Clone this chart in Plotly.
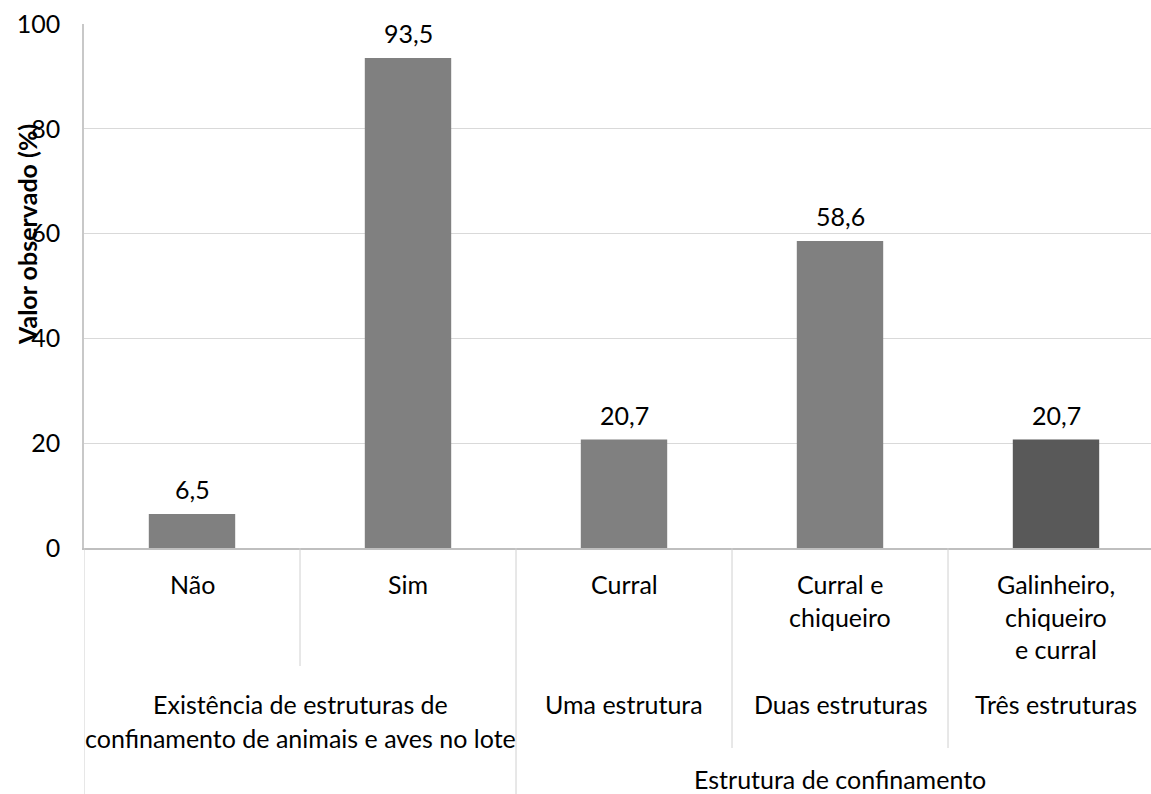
import plotly.graph_objects as go

# ---- data ----
categories = ["Não", "Sim", "Curral", "Curral e chiqueiro", "Galinheiro, chiqueiro e curral"]
category_lines = [["Não"], ["Sim"], ["Curral"], ["Curral e", "chiqueiro"], ["Galinheiro,", "chiqueiro", "e curral"]]
values = [6.5, 93.5, 20.7, 58.6, 20.7]
bar_colors = ["#808080", "#808080", "#808080", "#808080", "#595959"]

group_lines = [["Existência de estruturas de", "confinamento de animais e aves no lote"],
               ["Uma estrutura"], ["Duas estruturas"], ["Três estruturas"]]
group_centers = [0.5, 2, 3, 4]
top_group_label = "Estrutura de confinamento"
top_group_center = 3
y_title = "Valor observado (%)"
y_ticks = [0, 20, 40, 60, 80, 100]

FONT = "Lato"
FS = 25
W, H = 1151, 794
PT, PB, PL = 24, 246, 84
plot_h = H - PT - PB
zero_px = PT + plot_h


def py(p):
    """pixel row -> paper y"""
    return (zero_px - p) / plot_h


x_pos = list(range(len(categories)))

fig = go.Figure()
fig.add_trace(go.Bar(
    x=x_pos, y=values, width=0.4,
    marker=dict(color=bar_colors, line=dict(width=0)),
    hoverinfo="skip", showlegend=False,
))

annotations = []
# data labels
for xi, v in zip(x_pos, values):
    annotations.append(dict(
        x=xi, y=v, xref="x", yref="y", text=f"{v:.1f}".replace(".", ","),
        showarrow=False, yanchor="middle", yshift=25,
        font=dict(family=FONT, size=FS, color="#000000")))

# first-level category labels
for xi, lines in zip(x_pos, category_lines):
    for k, line in enumerate(lines):
        annotations.append(dict(
            x=xi, y=py(584 + 32.5 * k), xref="x", yref="paper", text=line,
            showarrow=False, yanchor="middle", xanchor="center",
            font=dict(family=FONT, size=FS, color="#000000")))

# second-level group labels
for xc, lines in zip(group_centers, group_lines):
    for k, line in enumerate(lines):
        annotations.append(dict(
            x=xc, y=py(704 + 34 * k), xref="x", yref="paper", text=line,
            showarrow=False, yanchor="middle", xanchor="center",
            font=dict(family=FONT, size=FS, color="#000000")))

# third-level label
annotations.append(dict(
    x=top_group_center, y=py(779), xref="x", yref="paper", text=top_group_label,
    showarrow=False, yanchor="middle", xanchor="center",
    font=dict(family=FONT, size=FS, color="#000000")))

# y axis title
annotations.append(dict(
    x=(27 - PL) / (W - PL), y=py(235), xref="paper", yref="paper",
    text=f"<b>{y_title}</b>", textangle=-90, showarrow=False,
    xanchor="center", yanchor="middle",
    font=dict(family=FONT, size=25, color="#000000")))

# separators of the multi-level axis
sep_color = "#d0d0d0"
shapes = []
seps = [(-0.5, 794 + 10), (0.5, 666), (1.5, 794 + 10), (2.5, 748), (3.5, 748)]
for xs, yend in seps:
    shapes.append(dict(type="line", xref="x", yref="paper",
                       x0=xs, x1=xs, y0=py(zero_px), y1=py(yend),
                       line=dict(color=sep_color, width=1)))

fig.update_layout(
    width=W, height=H,
    margin=dict(l=PL, r=0, t=PT, b=PB),
    paper_bgcolor="white", plot_bgcolor="white",
    bargap=0.6,
    annotations=annotations, shapes=shapes,
    xaxis=dict(range=[-0.5, -0.5 + (W - PL) / 216.0], showticklabels=False,
               showgrid=False, zeroline=False, showline=True,
               linecolor="#bfbfbf", linewidth=1.5, ticks=""),
    yaxis=dict(range=[0, 100], tickvals=y_ticks, showgrid=True,
               gridcolor="#d9d9d9", gridwidth=1, zeroline=False,
               showline=True, linecolor="#c8c8c8", linewidth=1.5,
               ticks="", ticklabelstandoff=17,
               tickfont=dict(family=FONT, size=FS, color="#000000")),
)

fig.write_html("out.html",
               config={"displayModeBar": False},
               post_script="document.body.style.margin='0px';document.body.style.overflow='hidden';")
